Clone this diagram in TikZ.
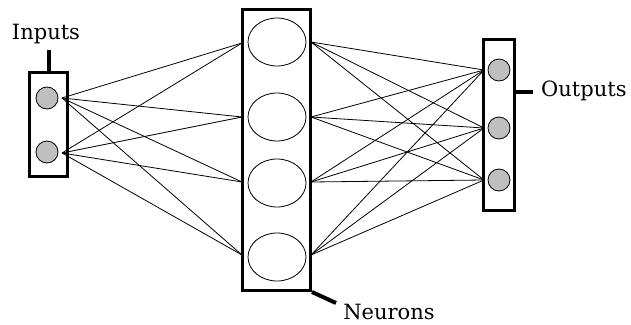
\documentclass[tikz,border=0pt]{standalone}
\usepackage{fontspec}
\setmainfont{DejaVu Serif}
\usetikzlibrary{shapes.geometric}
\begin{document}
\begin{tikzpicture}[x=1pt,y=-1pt,
  frame/.style={draw=black,line width=3pt,fill=white},
  unit/.style={circle,draw=black,line width=0.8pt,fill=black!25,minimum size=22pt,inner sep=0pt},
  neuron/.style={ellipse,draw=black,line width=0.8pt,minimum width=58pt,minimum height=48pt,inner sep=0pt},
  wire/.style={draw=black,line width=0.8pt},
  tick/.style={draw=black,line width=4pt},
  lbl/.style={font=\fontsize{21}{24}\selectfont,inner sep=0pt}]
\useasboundingbox (0,0) rectangle (631,324);
% boxes
\node[frame,minimum width=38pt,minimum height=104pt,inner sep=0pt] (inbox) at (48.5,124.5) {};
\node[frame,minimum width=68pt,minimum height=281pt,inner sep=0pt] (nbox) at (276.5,150) {};
\node[frame,minimum width=31pt,minimum height=171pt,inner sep=0pt] (outbox) at (498.5,125) {};
% units
\node[unit] (i1) at (47,98) {};
\node[unit] (i2) at (47,152) {};
\node[neuron] (n1) at (277,42) {};
\node[neuron] (n2) at (277,117) {};
\node[neuron] (n3) at (277,183) {};
\node[neuron] (n4) at (277,257) {};
\node[unit] (o1) at (499,70) {};
\node[unit] (o2) at (499,128) {};
\node[unit] (o3) at (499,180) {};
% connection points
\coordinate (a1) at (62,98);
\coordinate (a2) at (62,153);
\coordinate (l1) at (242,43);
\coordinate (l2) at (242,117);
\coordinate (l3) at (242,182);
\coordinate (l4) at (242,255);
\coordinate (r1) at (311,42);
\coordinate (r2) at (311,117);
\coordinate (r3) at (311,182);
\coordinate (r4) at (311,255);
\coordinate (b1) at (484,70);
\coordinate (b2) at (484,128);
\coordinate (b3) at (484,180);
\foreach \a in {a1,a2}{\foreach \l in {l1,l2,l3,l4}{\draw[wire] (\a) -- (\l);}}
\foreach \r in {r1,r2,r3,r4}{\foreach \b in {b1,b2,b3}{\draw[wire] (\r) -- (\b);}}
% ticks and labels
\coordinate (ti) at (49,50);
\draw[tick] (inbox.north -| ti) -- (ti);
\node[lbl] (tin) at (46,34) {Inputs};
\coordinate (to) at (533,92);
\draw[tick] (outbox.east |- to) -- (to);
\node[lbl,anchor=west] (tout) at (541,91) {Outputs};
\coordinate (tn) at (336,303);
\draw[tick] (nbox.south east) -- (tn);
\node[lbl] (tneu) at (389,312) {Neurons};
\end{tikzpicture}
\end{document}
